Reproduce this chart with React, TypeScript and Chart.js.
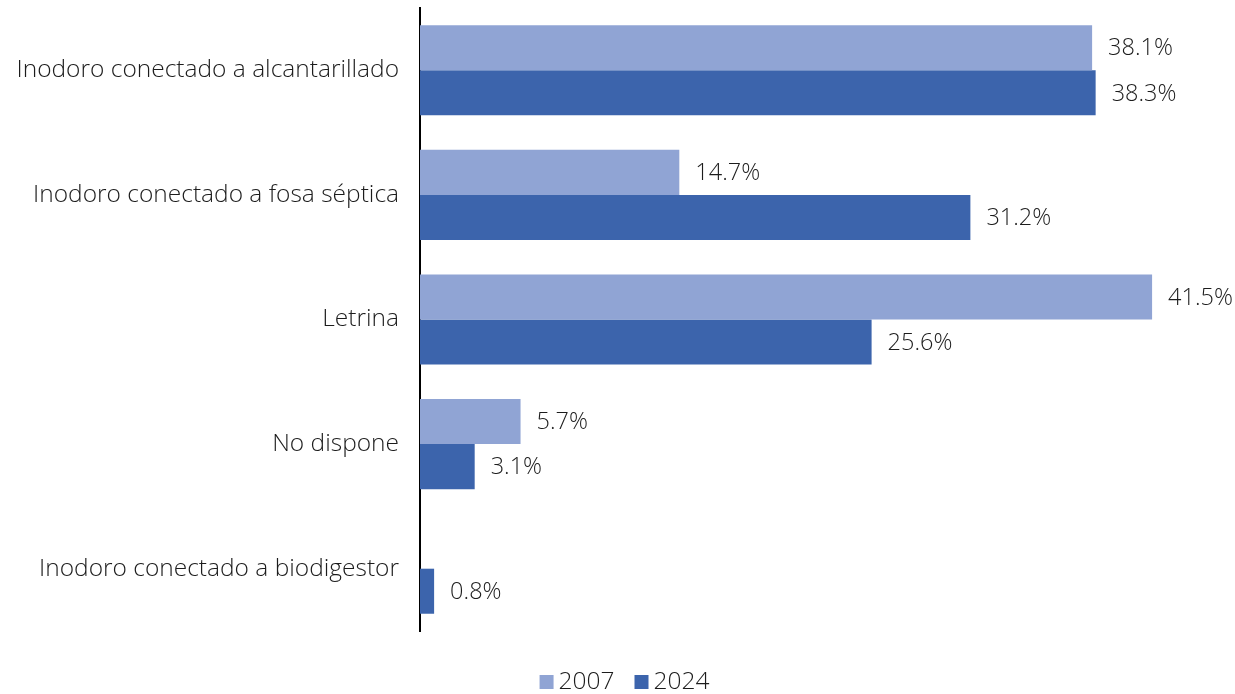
import React, { useEffect, useRef } from "react";
import { Chart, registerables } from "chart.js";

Chart.register(...registerables);

const categories = [
  "Inodoro conectado a alcantarillado",
  "Inodoro conectado a fosa séptica",
  "Letrina",
  "No dispone",
  "Inodoro conectado a biodigestor",
];
const values2007: (number | null)[] = [38.1, 14.7, 41.5, 5.7, null];
const values2024: (number | null)[] = [38.3, 31.2, 25.6, 3.1, 0.8];
const seriesLabels = ["2007", "2024"];
const seriesColors = ["#90A4D4", "#3C64AC"];

const FONT = "'Open Sans', sans-serif";
const TEXT = "#1c1c1c";

const valueLabels = {
  id: "valueLabels",
  afterDatasetsDraw(chart: any) {
    const ctx = chart.ctx;
    ctx.save();
    ctx.font = `300 23.5px ${FONT}`;
    ctx.fillStyle = TEXT;
    ctx.textAlign = "left";
    ctx.textBaseline = "middle";
    chart.data.datasets.forEach((ds: any, i: number) => {
      const meta = chart.getDatasetMeta(i);
      meta.data.forEach((bar: any, j: number) => {
        const v = ds.data[j];
        if (v === null || v === undefined) return;
        ctx.fillText(v.toFixed(1) + "%", bar.x + 16, bar.y + 1);
      });
    });
    ctx.restore();
  },
};

const bottomLegend = {
  id: "bottomLegend",
  afterDraw(chart: any) {
    const ctx = chart.ctx;
    ctx.save();
    ctx.font = `300 24.5px ${FONT}`;
    ctx.textBaseline = "middle";
    ctx.textAlign = "left";
    const box = 14;
    const gapBoxText = 5;
    const gapItems = 20;
    const items = chart.data.datasets.map((ds: any) => ({
      label: ds.label,
      color: ds.backgroundColor,
      w: box + gapBoxText + ctx.measureText(ds.label).width,
    }));
    const total = items.reduce((s: number, it: any) => s + it.w, 0) + gapItems * (items.length - 1);
    let x = chart.width / 2 - total / 2 + 7;
    const cy = 682;
    items.forEach((it: any) => {
      ctx.fillStyle = it.color;
      ctx.fillRect(x, cy - box / 2, box, box);
      ctx.fillStyle = TEXT;
      ctx.fillText(it.label, x + box + gapBoxText, cy);
      x += it.w + gapItems;
    });
    ctx.restore();
  },
};

export default function App() {
  const ref = useRef<HTMLCanvasElement | null>(null);
  useEffect(() => {
    if (!ref.current) return;
    const chart = new Chart(ref.current, {
      type: "bar",
      data: {
        labels: categories,
        datasets: [
          {
            label: seriesLabels[0],
            data: values2007,
            backgroundColor: seriesColors[0],
            barPercentage: 1,
            categoryPercentage: 0.723,
          },
          {
            label: seriesLabels[1],
            data: values2024,
            backgroundColor: seriesColors[1],
            barPercentage: 1,
            categoryPercentage: 0.723,
          },
        ],
      },
      options: {
        indexAxis: "y",
        animation: false,
        responsive: false,
        maintainAspectRatio: false,
        layout: { padding: { top: 8, right: 0, left: 0, bottom: 63 } },
        scales: {
          x: {
            display: false,
            min: 0,
            max: 46.2,
          },
          y: {
            grid: { display: false, drawTicks: false },
            border: { display: true, color: "#000000", width: 2 },
            ticks: {
              color: TEXT,
              font: { family: FONT, size: 24.5, weight: "300" },
              padding: 21,
            },
            afterFit(scale: any) {
              scale.width = 420;
              scale.paddingTop = 0;
              scale.paddingBottom = 0;
            },
          },
        },
        plugins: {
          legend: { display: false },
          tooltip: { enabled: false },
        },
      },
      plugins: [valueLabels, bottomLegend],
    });
    return () => chart.destroy();
  }, []);
  return (
    <div style={{ position: "fixed", left: 0, top: 0, width: 1235, height: 694, background: "#ffffff" }}>
      <canvas ref={ref} width={1235} height={694} />
    </div>
  );
}
